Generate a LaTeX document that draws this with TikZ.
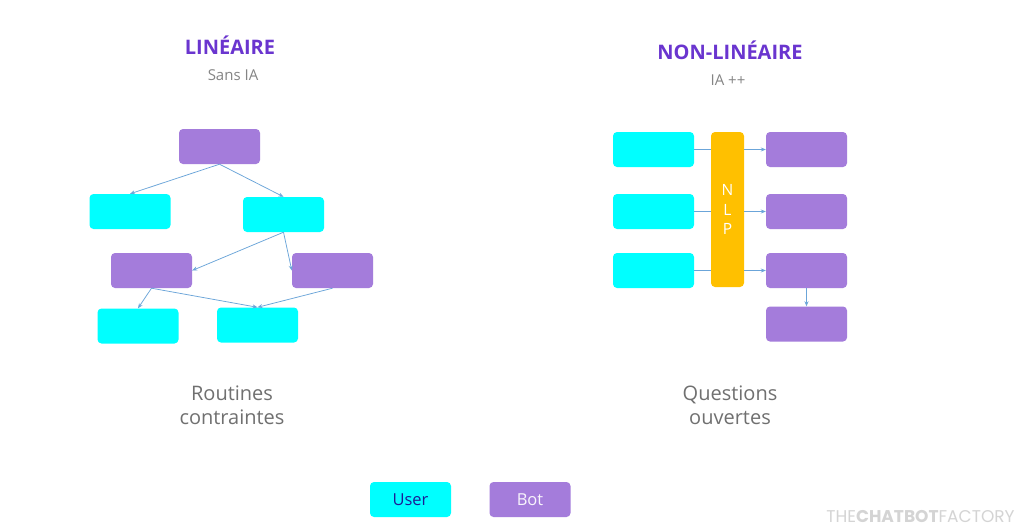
\documentclass[tikz,border=0pt]{standalone}
\usepackage{fontspec}
\setmainfont{Open Sans}
\newfontfamily\logofont{Poppins}
\usepackage{xcolor}
\usepackage{tikz}
\usetikzlibrary{arrows.meta,positioning}
\definecolor{usercyan}{HTML}{00FFFF}
\definecolor{botpurple}{HTML}{A47CDB}
\definecolor{nlporange}{HTML}{FFC000}
\definecolor{titlepurple}{HTML}{6A35CF}
\definecolor{arrowblue}{HTML}{5B9BD5}
\definecolor{subgray}{HTML}{858585}
\definecolor{capgray}{HTML}{707070}
\definecolor{usertext}{HTML}{1C1C96}
\tikzset{
  userbox/.style={rectangle,rounded corners=4pt,fill=usercyan,draw=none,
                  minimum width=81pt,minimum height=35pt,inner sep=0pt},
  botbox/.style={rectangle,rounded corners=4pt,fill=botpurple,draw=none,
                 minimum width=81pt,minimum height=35pt,inner sep=0pt},
  nlpbox/.style={rectangle,rounded corners=4pt,fill=nlporange,draw=none,
                 minimum width=33pt,minimum height=155pt,inner sep=0pt,
                 text=white,align=center,font=\fontsize{15.5}{19.5}\selectfont},
  titletxt/.style={font=\fontsize{20}{24}\selectfont\bfseries,text=titlepurple},
  subtxt/.style={font=\fontsize{15}{18}\selectfont,text=subgray},
  captxt/.style={font=\fontsize{20}{24}\selectfont,text=capgray,align=center},
  arr/.style={-{Stealth[length=5pt,width=4pt]},line width=0.75pt,color=arrowblue!90},
  lnk/.style={line width=0.75pt,color=arrowblue!90},
}

\begin{document}
\begin{tikzpicture}[x=1pt,y=-1pt]
    \useasboundingbox[fill=white] (0,0) rectangle (1024,528);

    % titres
    \node[titletxt] (tlin) at (230,45) {LINÉAIRE};
    \node[subtxt] (slin) at (233,75) {Sans IA};
    \node[titletxt] (tnon) at (730,50) {NON-LINÉAIRE};
    \node[subtxt] (snon) at (728,80) {IA ++};

    % arbre lineaire
    \node[botbox] (b1) at (219.5,146.5) {};
    \node[userbox] (u1) at (130,211.5) {};
    \node[userbox] (u2) at (283.5,214.5) {};
    \node[botbox] (b2) at (151.5,270.5) {};
    \node[botbox] (b3) at (332.5,270.5) {};
    \node[userbox] (u3) at (138,326) {};
    \node[userbox] (u4) at (257.5,325) {};

    \draw[arr] (b1.south) -- (u1.north);
    \draw[arr] (b1.south) -- (u2.north);
    \draw[arr] (u2.south) -- (b2.east);
    \draw[arr] (u2.south) -- (b3.west);
    \draw[arr] (b2.south) -- (u3.north);
    \draw[arr] (b2.south) -- (u4.north);
    \draw[arr] (b3.south) -- (u4.north);

    % non lineaire
    \node[userbox] (ua) at (653.5,149.5) {};
    \node[userbox] (ub) at (653.5,211.5) {};
    \node[userbox] (uc) at (653.5,270.5) {};
    \node[nlpbox] (nlp) at (727.5,209.5) {N\\L\\P};
    \node[botbox] (ba) at (806.5,149.5) {};
    \node[botbox] (bb) at (806.5,211.5) {};
    \node[botbox] (bc) at (806.5,270.5) {};
    \node[botbox] (bd) at (806.5,324) {};

    \foreach \u/\b in {ua/ba,ub/bb,uc/bc}{
        \draw[lnk] (\u.east) -- (nlp.west |- \u.east);
        \draw[arr] (nlp.east |- \b.west) -- (\b.west);
    }
    \draw[arr] (bc.south) -- (bd.north);

    % legendes
    \node[captxt] (clin) at (232,405) {Routines\\contraintes};
    \node[captxt] (cnon) at (730,405) {Questions\\ouvertes};

    \node[userbox,text=usertext,font=\fontsize{16.5}{19}\selectfont] (luser) at (410.5,499.5) {User};
    \node[botbox,text=white!92!botpurple,font=\fontsize{16.5}{19}\selectfont] (lbot) at (530,499.5) {Bot};

    \node[text=black!17,font=\fontsize{17}{20}\selectfont\logofont,inner sep=0pt] (logo) at (920.5,516)
        {THE\textbf{CHATBOT}FACTORY};
\end{tikzpicture}
\end{document}
